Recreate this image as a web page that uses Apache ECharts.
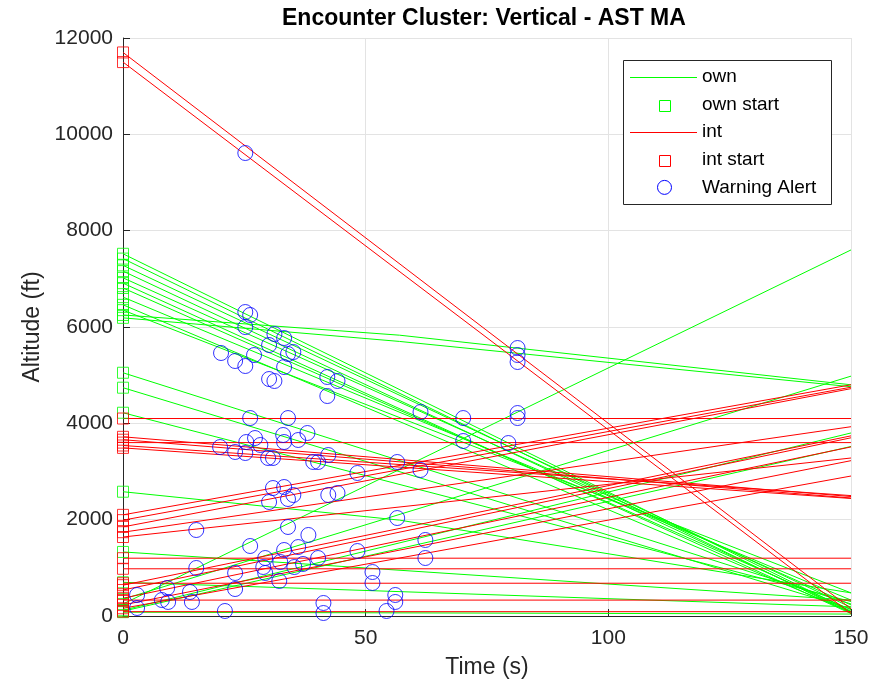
<!DOCTYPE html>
<html>
<head>
<meta charset="utf-8">
<script src="https://cdn.jsdelivr.net/npm/echarts@6/dist/echarts.min.js"></script>
<style>
  html, body { margin: 0; padding: 0; background: #ffffff; }
  #chart { width: 892px; height: 690px; }
</style>
</head>
<body>
<div id="chart"></div>
<script>
// Axis ticks
const xTicks = [0, 50, 100, 150];
const yTicks = [0, 2000, 4000, 6000, 8000, 10000, 12000];

// Own-ship altitude tracks, vertices as [time (s), altitude (ft)]
const ownTracks = [
  [[0, 7520], [150, 100]],
  [[0, 7420], [150, 60]],
  [[0, 7280], [150, 180]],
  [[0, 7160], [150, 90]],
  [[0, 7020], [150, 230]],
  [[0, 6910], [150, 50]],
  [[0, 6810], [150, 130]],
  [[0, 6620], [150, 330]],
  [[0, 6460], [150, 80]],
  [[0, 6350], [150, 480]],
  [[0, 6250], [57, 5830], [150, 4800]],
  [[0, 6190], [57, 5700], [150, 4760]],
  [[0, 5050], [150, 250]],
  [[0, 4740], [150, 150]],
  [[0, 4220], [150, 300]],
  [[0, 2580], [57, 1990], [150, 480]],
  [[0, 1330], [150, 330]],
  [[0, 700], [150, 190]],
  [[0, 80], [150, 40]],
  [[0, 250], [150, 7600]],
  [[0, 350], [150, 4980]],
  [[0, 120], [150, 3800]],
  [[0, 100], [150, 3520]]
];

// Intruder altitude tracks, vertices as [time (s), altitude (ft)]
const intTracks = [
  [[0, 11700], [150, 150]],
  [[0, 11500], [150, 50]],
  [[0, 4100], [150, 4100]],
  [[0, 3600], [150, 3600]],
  [[0, 3720], [150, 2480]],
  [[0, 3660], [150, 2450]],
  [[0, 3540], [150, 2500]],
  [[0, 3490], [150, 2440]],
  [[0, 2100], [150, 4800]],
  [[0, 1990], [150, 4750]],
  [[0, 1850], [150, 4720]],
  [[0, 1740], [150, 3930]],
  [[0, 1640], [150, 3280]],
  [[0, 640], [150, 3740]],
  [[0, 540], [150, 3700]],
  [[0, 370], [150, 3510]],
  [[0, 230], [150, 3225]],
  [[0, 160], [150, 2906]],
  [[0, 1200], [150, 1200]],
  [[0, 980], [150, 980]],
  [[0, 680], [150, 680]],
  [[0, 330], [150, 330]],
  [[0, 90], [150, 90]]
];

// Warning alert events: [time (s), altitude (ft)]
const warningAlerts = [
  [25.2, 9612], [25.2, 6311], [26.2, 6249], [25.2, 5999], [20.2, 5460],
  [23.1, 5294], [25.2, 5190], [27.0, 5418], [30.1, 5626], [31.2, 5854],
  [33.2, 5771], [35.1, 5480], [34.0, 5439], [33.2, 5169], [30.1, 4920],
  [31.2, 4879], [42.1, 4962], [44.2, 4879], [42.1, 4567], [26.2, 4110],
  [34.0, 4110], [61.3, 4235], [70.1, 4110], [81.3, 5564], [81.3, 5418],
  [81.3, 5273], [81.3, 4214], [81.3, 4110], [20.0, 3508], [23.1, 3405],
  [25.2, 3384], [25.4, 3612], [27.2, 3695], [28.3, 3550], [29.9, 3280],
  [30.9, 3280], [33.0, 3758], [33.2, 3612], [36.1, 3654], [38.0, 3799],
  [39.2, 3197], [40.2, 3197], [42.3, 3342], [48.3, 2969], [30.9, 2657],
  [33.2, 2678], [30.1, 2367], [34.0, 2429], [35.1, 2512], [42.3, 2512],
  [44.2, 2553], [56.5, 3197], [61.3, 3031], [70.1, 3633], [79.4, 3591],
  [56.5, 2034], [62.3, 1578], [62.3, 1204], [34.0, 1848], [15.1, 1785],
  [26.2, 1453], [38.2, 1682], [36.1, 1432], [33.2, 1370], [29.3, 1204],
  [28.9, 1017], [29.3, 893], [32.4, 1121], [32.2, 727], [35.3, 1017],
  [37.1, 1080], [40.2, 1204], [48.3, 1349], [51.4, 913], [51.4, 685],
  [23.1, 893], [23.1, 560], [15.1, 997], [2.9, 436], [2.9, 166],
  [8.0, 332], [9.1, 581], [9.3, 291], [13.8, 498], [14.2, 291],
  [21.0, 104], [41.3, 270], [41.3, 62], [54.3, 104], [56.1, 436],
  [56.1, 291]
];

const OWN_COLOR = '#00ff00';
const INT_COLOR = '#ff0000';
const ALERT_COLOR = '#0000ff';
const AXIS_COLOR = '#262626';
const FONT = '"Liberation Sans", Arial, Helvetica, sans-serif';

const chart = echarts.init(document.getElementById('chart'), null, { renderer: 'canvas' });

function trackSeries(tracks, name, color) {
  return tracks.map(function (pts) {
    return {
      name: name,
      type: 'line',
      data: pts,
      showSymbol: false,
      symbol: 'none',
      lineStyle: { color: color, width: 1 },
      emphasis: { disabled: true },
      silent: true,
      z: 2
    };
  });
}

function startSeries(tracks, name, color) {
  return {
    name: name,
    type: 'scatter',
    data: tracks.map(function (pts) { return pts[0]; }),
    symbol: 'rect',
    symbolSize: 11,
    itemStyle: { color: 'rgba(0,0,0,0)', borderColor: color, borderWidth: 1 },
    emphasis: { disabled: true },
    silent: true,
    z: 3
  };
}

const series = []
  .concat(trackSeries(ownTracks, 'own', OWN_COLOR))
  .concat(trackSeries(intTracks, 'int', INT_COLOR))
  .concat([
    startSeries(ownTracks, 'own start', OWN_COLOR),
    startSeries(intTracks, 'int start', INT_COLOR),
    {
      name: 'Warning Alert',
      type: 'scatter',
      data: warningAlerts,
      symbol: 'circle',
      symbolSize: 15,
      itemStyle: { color: 'rgba(0,0,0,0)', borderColor: ALERT_COLOR, borderWidth: 1 },
      emphasis: { disabled: true },
      silent: true,
      z: 4
    }
  ]);

// Legend box drawn in the upper right of the plot
const legendRows = [
  { label: 'own', kind: 'line', color: OWN_COLOR },
  { label: 'own start', kind: 'rect', color: OWN_COLOR },
  { label: 'int', kind: 'line', color: INT_COLOR },
  { label: 'int start', kind: 'rect', color: INT_COLOR },
  { label: 'Warning Alert', kind: 'circle', color: ALERT_COLOR }
];
const legendBox = { x: 623, y: 60, w: 208, h: 144 };
const legendGraphics = [{
  type: 'rect',
  shape: { x: legendBox.x + 0.5, y: legendBox.y + 0.5, width: legendBox.w, height: legendBox.h },
  style: { fill: '#ffffff', stroke: AXIS_COLOR, lineWidth: 1 },
  z: 100
}];
legendRows.forEach(function (row, i) {
  const cy = 77 + i * 27.6;
  if (row.kind === 'line') {
    legendGraphics.push({
      type: 'line',
      shape: { x1: 630, y1: Math.round(cy) + 0.5, x2: 697, y2: Math.round(cy) + 0.5 },
      style: { stroke: row.color, lineWidth: 1 },
      z: 101
    });
  } else if (row.kind === 'rect') {
    legendGraphics.push({
      type: 'rect',
      shape: { x: 659.5, y: Math.round(cy) - 5 + 0.5, width: 11, height: 11 },
      style: { fill: 'none', stroke: row.color, lineWidth: 1 },
      z: 101
    });
  } else {
    legendGraphics.push({
      type: 'circle',
      shape: { cx: 664.5, cy: cy, r: 7 },
      style: { fill: 'none', stroke: row.color, lineWidth: 1 },
      z: 101
    });
  }
  legendGraphics.push({
    type: 'text',
    x: 702,
    y: cy,
    style: {
      text: row.label,
      fill: '#000000',
      font: '19px ' + FONT,
      verticalAlign: 'middle',
      textAlign: 'left'
    },
    z: 101
  });
});

const option = {
  animation: false,
  backgroundColor: '#ffffff',
  title: {
    text: 'Encounter Cluster: Vertical - AST MA',
    left: 282,
    top: 7,
    padding: 0,
    textStyle: { fontFamily: FONT, fontSize: 23, fontWeight: 'bold', color: '#000000' }
  },
  grid: { left: 123, right: 41, top: 38, bottom: 74, containLabel: false },
  xAxis: {
    type: 'value',
    min: xTicks[0],
    max: xTicks[xTicks.length - 1],
    interval: xTicks[1] - xTicks[0],
    name: 'Time (s)',
    nameLocation: 'middle',
    nameGap: 40,
    nameTextStyle: { fontFamily: FONT, fontSize: 23, color: AXIS_COLOR },
    axisLine: { show: true, lineStyle: { color: AXIS_COLOR, width: 1 } },
    axisTick: { show: true, inside: true, length: 7, lineStyle: { color: AXIS_COLOR } },
    axisLabel: {
      fontFamily: FONT, fontSize: 21, color: AXIS_COLOR, margin: 12,
      formatter: function (v) { return xTicks.indexOf(v) >= 0 ? String(v) : ''; }
    },
    splitLine: { show: true, lineStyle: { color: '#e3e3e3', width: 1 } }
  },
  yAxis: {
    type: 'value',
    min: yTicks[0],
    max: yTicks[yTicks.length - 1],
    interval: yTicks[1] - yTicks[0],
    name: 'Altitude (ft)',
    nameLocation: 'middle',
    nameGap: 78,
    nameTextStyle: { fontFamily: FONT, fontSize: 23, color: AXIS_COLOR },
    axisLine: { show: true, lineStyle: { color: AXIS_COLOR, width: 1 } },
    axisTick: { show: true, inside: true, length: 7, lineStyle: { color: AXIS_COLOR } },
    axisLabel: {
      fontFamily: FONT, fontSize: 21, color: AXIS_COLOR, margin: 10,
      formatter: function (v) { return yTicks.indexOf(v) >= 0 ? String(v) : ''; }
    },
    splitLine: { show: true, lineStyle: { color: '#e3e3e3', width: 1 } }
  },
  graphic: legendGraphics,
  series: series
};

chart.setOption(option);
</script>
</body>
</html>
